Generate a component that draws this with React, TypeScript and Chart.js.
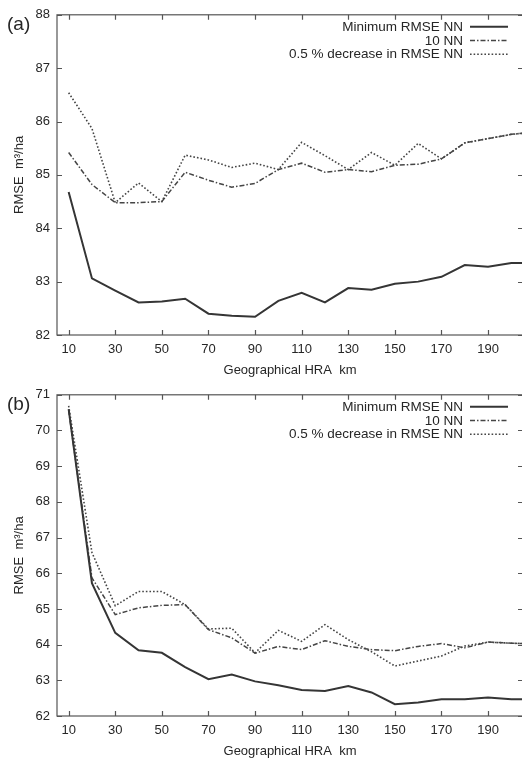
import React, { useEffect, useRef } from "react";
import { Chart, registerables } from "chart.js";

Chart.register(...registerables);

// ---------- data ----------
const hraKm = [10, 20, 30, 40, 50, 60, 70, 80, 90, 100, 110, 120, 130, 140, 150, 160, 170, 180, 190, 200, 210];
const xTickValues = [10, 30, 50, 70, 90, 110, 130, 150, 170, 190];
const yTicksA = [82, 83, 84, 85, 86, 87, 88];
const yTicksB = [62, 63, 64, 65, 66, 67, 68, 69, 70, 71];
const seriesNames = ["Minimum RMSE NN", "10 NN", "0.5 % decrease in RMSE NN"];

const aMinimum = [84.68, 83.06, 82.83, 82.61, 82.63, 82.68, 82.40, 82.36, 82.34, 82.64, 82.79, 82.61, 82.88, 82.85, 82.96, 83.00, 83.09, 83.31, 83.28, 83.35, 83.35];
const aTenNN = [85.42, 84.82, 84.48, 84.48, 84.50, 85.05, 84.90, 84.77, 84.84, 85.10, 85.22, 85.05, 85.10, 85.06, 85.18, 85.20, 85.30, 85.60, 85.68, 85.76, 85.80];
const aDecrease = [86.54, 85.87, 84.48, 84.85, 84.50, 85.37, 85.28, 85.14, 85.22, 85.10, 85.61, 85.36, 85.10, 85.42, 85.18, 85.59, 85.30, 85.60, 85.68, 85.76, 85.80];

const bMinimum = [70.60, 65.72, 64.33, 63.84, 63.77, 63.37, 63.03, 63.16, 62.97, 62.86, 62.73, 62.70, 62.84, 62.66, 62.33, 62.38, 62.47, 62.47, 62.52, 62.47, 62.47];
const bTenNN = [70.57, 65.87, 64.84, 65.03, 65.10, 65.12, 64.42, 64.19, 63.76, 63.95, 63.86, 64.11, 63.95, 63.86, 63.83, 63.95, 64.03, 63.91, 64.07, 64.04, 64.02];
const bDecrease = [70.69, 66.58, 65.09, 65.49, 65.49, 65.12, 64.44, 64.46, 63.77, 64.40, 64.09, 64.56, 64.14, 63.80, 63.40, 63.54, 63.68, 63.96, 64.07, 64.04, 64.02];

// ---------- styles ----------
const FONT = "'Liberation Sans', Arial, Helvetica, sans-serif";
const INK = "#262626";
const AXIS = "#555";
const lineStyles = [
  { color: "#353535", width: 2, dash: [] as number[] },
  { color: "#454545", width: 1.5, dash: [5, 2, 1.5, 2] },
  { color: "#454545", width: 1.6, dash: [1.6, 2] },
];

const framePlugin = {
  id: "frameTicks",
  afterDraw(chart: any) {
    const ctx = chart.ctx;
    const { left, right, top, bottom } = chart.chartArea;
    const xs = chart.scales.x;
    const ys = chart.scales.y;
    ctx.save();
    ctx.strokeStyle = AXIS;
    ctx.lineWidth = 1.2;
    ctx.strokeRect(left, top, right - left, bottom - top);
    ctx.beginPath();
    xTickValues.forEach((v) => {
      const px = Math.round(xs.getPixelForValue(v)) + 0.5;
      ctx.moveTo(px, bottom);
      ctx.lineTo(px, bottom - 5);
      ctx.moveTo(px, top);
      ctx.lineTo(px, top + 5);
    });
    ys.ticks.forEach((t: any) => {
      const py = Math.round(ys.getPixelForValue(t.value)) + 0.5;
      ctx.moveTo(left, py);
      ctx.lineTo(left + 5, py);
      ctx.moveTo(right, py);
      ctx.lineTo(right - 5, py);
    });
    ctx.stroke();

    // legend
    const textRight = right - 60;
    const sampleL = right - 53;
    const sampleR = right - 15;
    ctx.font = `13.5px ${FONT}`;
    ctx.textAlign = "right";
    ctx.textBaseline = "middle";
    chart.data.datasets.forEach((ds: any, i: number) => {
      const y = top + 12 + i * 13.7;
      ctx.fillStyle = INK;
      ctx.fillText(ds.label, textRight, y + 0.5);
      const st = lineStyles[i];
      ctx.strokeStyle = st.color;
      ctx.lineWidth = st.width;
      ctx.setLineDash(st.dash);
      ctx.beginPath();
      ctx.moveTo(sampleL, y);
      ctx.lineTo(sampleR, y);
      ctx.stroke();
      ctx.setLineDash([]);
    });

    // panel label
    const panel = chart.options.plugins.panelLabel;
    ctx.font = `19px ${FONT}`;
    ctx.textAlign = "left";
    ctx.fillStyle = INK;
    ctx.fillText(panel, 7, top + 10);
    ctx.restore();
  },
};

function buildConfig(panel: string, series: number[][], yTicks: number[], padTop: number) {
  return {
    type: "line" as const,
    data: {
      datasets: series.map((vals, i) => ({
        label: seriesNames[i],
        data: hraKm.map((x, j) => ({ x, y: vals[j] })),
        borderColor: lineStyles[i].color,
        borderWidth: lineStyles[i].width,
        borderDash: lineStyles[i].dash,
        pointRadius: 0,
        tension: 0,
        fill: false,
      })),
    },
    options: {
      responsive: false,
      animation: false as const,
      devicePixelRatio: 1,
      layout: { padding: { top: padTop, right: 7, left: 0, bottom: 0 } },
      plugins: {
        legend: { display: false },
        tooltip: { enabled: false },
        panelLabel: panel,
      },
      scales: {
        x: {
          type: "linear" as const,
          min: 5,
          max: 205,
          afterBuildTicks: (s: any) => {
            s.ticks = xTickValues.map((v) => ({ value: v }));
          },
          afterFit: (s: any) => {
            s.height = 45;
          },
          grid: { display: false, drawTicks: false },
          border: { display: false },
          ticks: { color: INK, font: { family: FONT, size: 13 }, padding: 7, maxRotation: 0, autoSkip: false },
          title: {
            display: true,
            text: "Geographical HRA  km",
            color: INK,
            font: { family: FONT, size: 13 },
            padding: { top: 0, bottom: 2 },
          },
        },
        y: {
          type: "linear" as const,
          min: yTicks[0],
          max: yTicks[yTicks.length - 1],
          afterBuildTicks: (s: any) => {
            s.ticks = yTicks.map((v) => ({ value: v }));
          },
          afterFit: (s: any) => {
            s.width = 57;
          },
          grid: { display: false, drawTicks: false },
          border: { display: false },
          ticks: { color: INK, font: { family: FONT, size: 13 }, padding: 7, autoSkip: false },
          title: {
            display: true,
            text: "RMSE  m³/ha",
            color: INK,
            font: { family: FONT, size: 13 },
            padding: { top: 12, bottom: 0 },
          },
        },
      },
    },
    plugins: [framePlugin],
  };
}

function Panel(props: { panel: string; series: number[][]; yTicks: number[]; padTop: number; top: number; height: number }) {
  const ref = useRef<HTMLCanvasElement | null>(null);
  useEffect(() => {
    if (!ref.current) return;
    const chart = new Chart(ref.current, buildConfig(props.panel, props.series, props.yTicks, props.padTop) as any);
    return () => chart.destroy();
  }, []);
  return (
    <div style={{ position: "absolute", left: 0, top: props.top, width: 530, height: props.height }}>
      <canvas ref={ref} width={530} height={props.height} style={{ display: "block" }} />
    </div>
  );
}

export default function App() {
  return (
    <div style={{ position: "fixed", left: 0, top: 0, width: 522, height: 761, overflow: "hidden", background: "#fff" }}>
      <Panel panel="(a)" series={[aMinimum, aTenNN, aDecrease]} yTicks={yTicksA} padTop={9} top={0} height={380} />
      <Panel panel="(b)" series={[bMinimum, bTenNN, bDecrease]} yTicks={yTicksB} padTop={14} top={380} height={381} />
    </div>
  );
}
